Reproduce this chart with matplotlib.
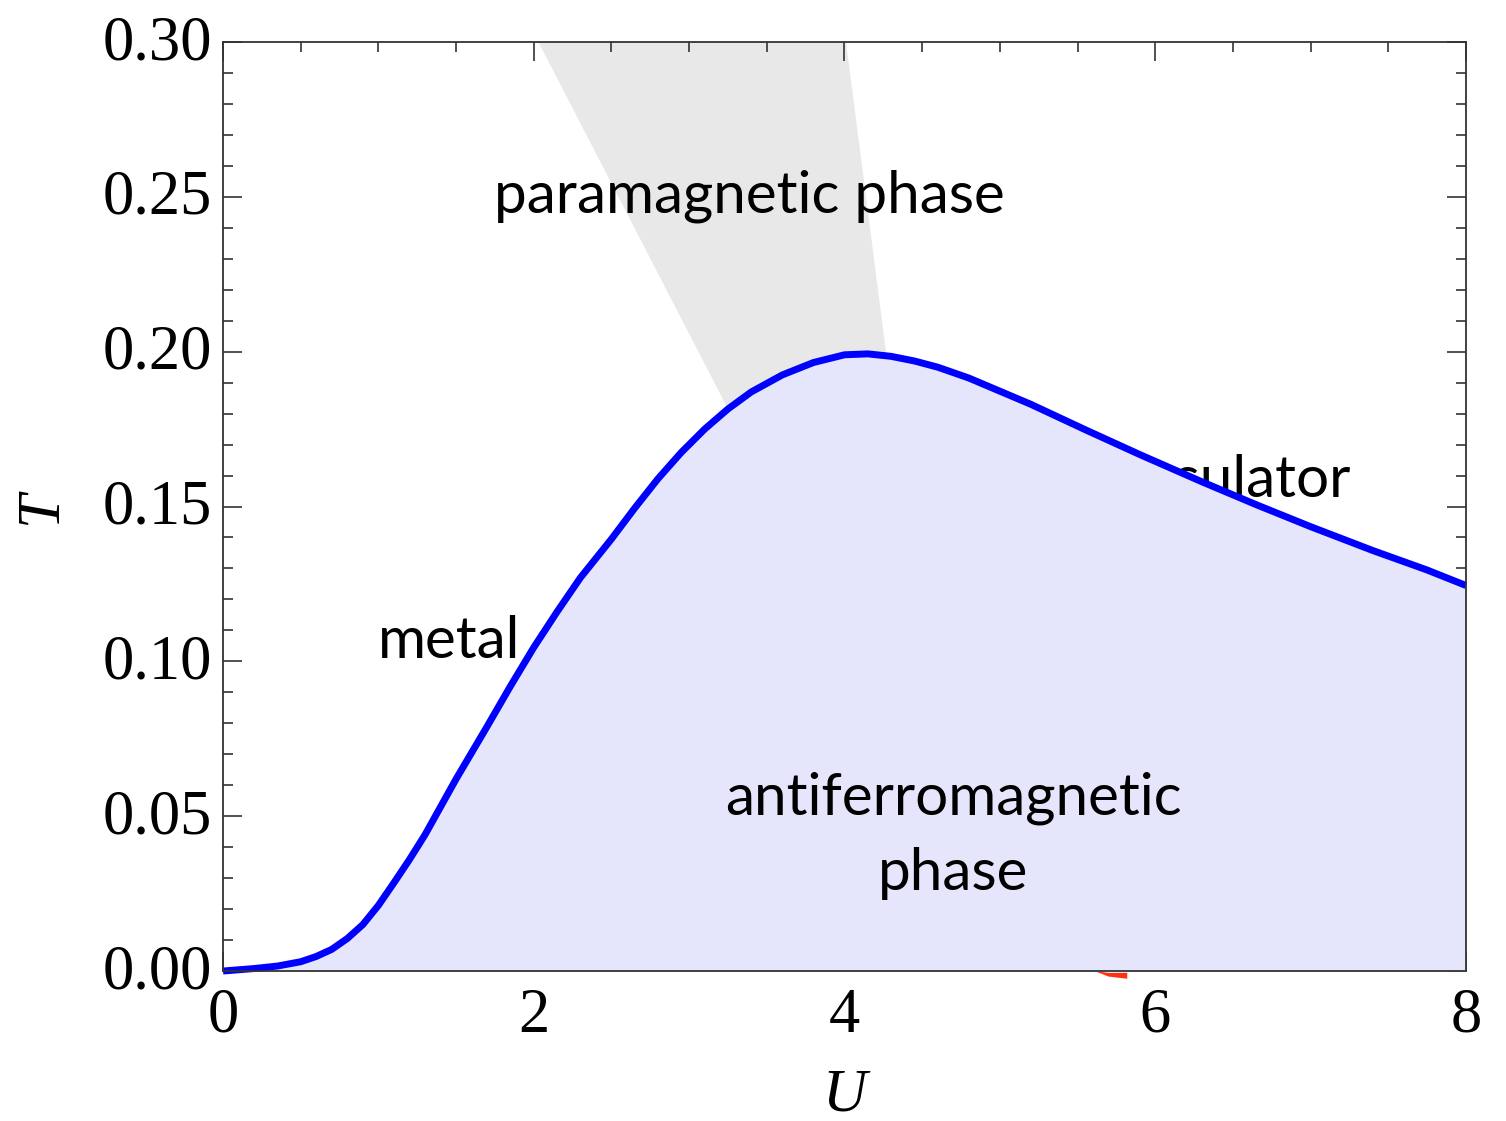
import matplotlib
matplotlib.use("Agg")
from matplotlib import pyplot as plt
from matplotlib.ticker import MultipleLocator, FormatStrFormatter
from matplotlib.transforms import ScaledTranslation

# Neel temperature curve T_N(U)
U_neel = [0.0, 0.2, 0.35, 0.5, 0.6, 0.7, 0.8, 0.9, 1.0, 1.1, 1.2, 1.3, 1.4,
          1.5, 1.6, 1.7, 1.85, 2.0, 2.15, 2.3, 2.5, 2.65, 2.8, 2.95, 3.1,
          3.25, 3.4, 3.6, 3.8, 4.0, 4.15, 4.3, 4.45, 4.6, 4.8, 5.2, 5.55,
          5.9, 6.3, 6.65, 7.0, 7.4, 7.75, 8.0]
T_neel = [0.0, 0.0008, 0.0016, 0.003, 0.0047, 0.0070, 0.0105, 0.0150,
          0.0212, 0.0285, 0.0360, 0.0440, 0.0530, 0.0620, 0.0705, 0.0790,
          0.0920, 0.1045, 0.1160, 0.1270, 0.1395, 0.1495, 0.1590, 0.1675,
          0.1750, 0.1815, 0.1870, 0.1925, 0.1965, 0.1990, 0.1993, 0.1985,
          0.1970, 0.1950, 0.1915, 0.1830, 0.1748, 0.1668, 0.1580, 0.1506,
          0.1435, 0.1358, 0.1295, 0.1245]

# crossover band between metal and insulator (left edge, right edge)
band_left_U = [2.03, 3.25]
band_left_T = [0.30, 0.1815]
band_right_U = [4.27, 4.01]
band_right_T = [0.1988, 0.30]

# small red segment just below the U axis
red_U = [5.60, 5.70, 5.82, 5.82, 5.70, 5.62]
red_T = [0.0, -0.0006, -0.0006, -0.0025, -0.0018, -0.0002]

serif = "Liberation Serif"
sans = "Lato"

fig = plt.figure(figsize=(15.06, 11.21), dpi=100)
ax = fig.add_axes([0.1481, 0.1338, 0.9734 - 0.1481, 0.9625 - 0.1338])

# grey crossover band, closed along the Neel curve
arc_U = [u for u in U_neel if band_left_U[1] <= u <= band_right_U[0]]
arc_T = [t for u, t in zip(U_neel, T_neel) if band_left_U[1] <= u <= band_right_U[0]]
poly_U = band_left_U + arc_U + band_right_U
poly_T = band_left_T + arc_T + band_right_T
ax.fill(poly_U, poly_T, color="#e8e8e8", lw=0, zorder=1)

fs = 42
ax.text(3.39, 0.2448, "paramagnetic phase", fontsize=fs, family=sans,
        ha="center", va="baseline", zorder=2)
ax.text(1.454, 0.101, "metal", fontsize=fs, family=sans,
        ha="center", va="baseline", zorder=2)
ax.text(7.26, 0.1532, "insulator", fontsize=fs, family=sans,
        ha="right", va="baseline", zorder=2)

# antiferromagnetic region under the curve
ax.fill_between(U_neel, 0, T_neel, color="#e5e5fb", lw=0, zorder=3)
ax.plot(U_neel, T_neel, color="#0000ff", lw=5, zorder=5,
        solid_capstyle="butt", solid_joinstyle="round", clip_on=False)

ax.text(4.70, 0.0504, "antiferromagnetic", fontsize=fs, family=sans,
        ha="center", va="baseline", zorder=4)
ax.text(4.70, 0.0262, "phase", fontsize=fs, family=sans,
        ha="center", va="baseline", zorder=4)

ax.fill(red_U, red_T, color="#ff3010", lw=0, zorder=6, clip_on=False)

ax.set_xlim(0, 8)
ax.set_ylim(0, 0.30)
ax.xaxis.set_major_locator(MultipleLocator(2))
ax.xaxis.set_minor_locator(MultipleLocator(0.5))
ax.yaxis.set_major_locator(MultipleLocator(0.05))
ax.yaxis.set_minor_locator(MultipleLocator(0.01))
ax.yaxis.set_major_formatter(FormatStrFormatter("%.2f"))
ax.xaxis.set_major_formatter(FormatStrFormatter("%d"))

ax.tick_params(which="both", direction="in", top=True, right=True,
               color="#333333", width=1.2)
ax.tick_params(which="major", length=14, labelsize=45)
ax.tick_params(axis="y", which="major", pad=8)
ax.tick_params(axis="x", which="major", pad=12)
ax.tick_params(which="minor", length=7)

# nudge the T tick labels up so the digits sit centred on their ticks
lift = ScaledTranslation(0, 0.05, fig.dpi_scale_trans)
for lab in ax.get_yticklabels():
    lab.set_family(serif)
    lab.set_transform(lab.get_transform() + lift)
for lab in ax.get_xticklabels():
    lab.set_family(serif)

for sp in ax.spines.values():
    sp.set_linewidth(1.3)
    sp.set_color("#333333")
    sp.set_zorder(7)

ax.set_xlabel("U", fontsize=44, family=serif, style="italic", labelpad=16)
ax.set_ylabel("T", fontsize=44, family=serif, style="italic", labelpad=24)

fig.savefig("out.png", dpi=100)
